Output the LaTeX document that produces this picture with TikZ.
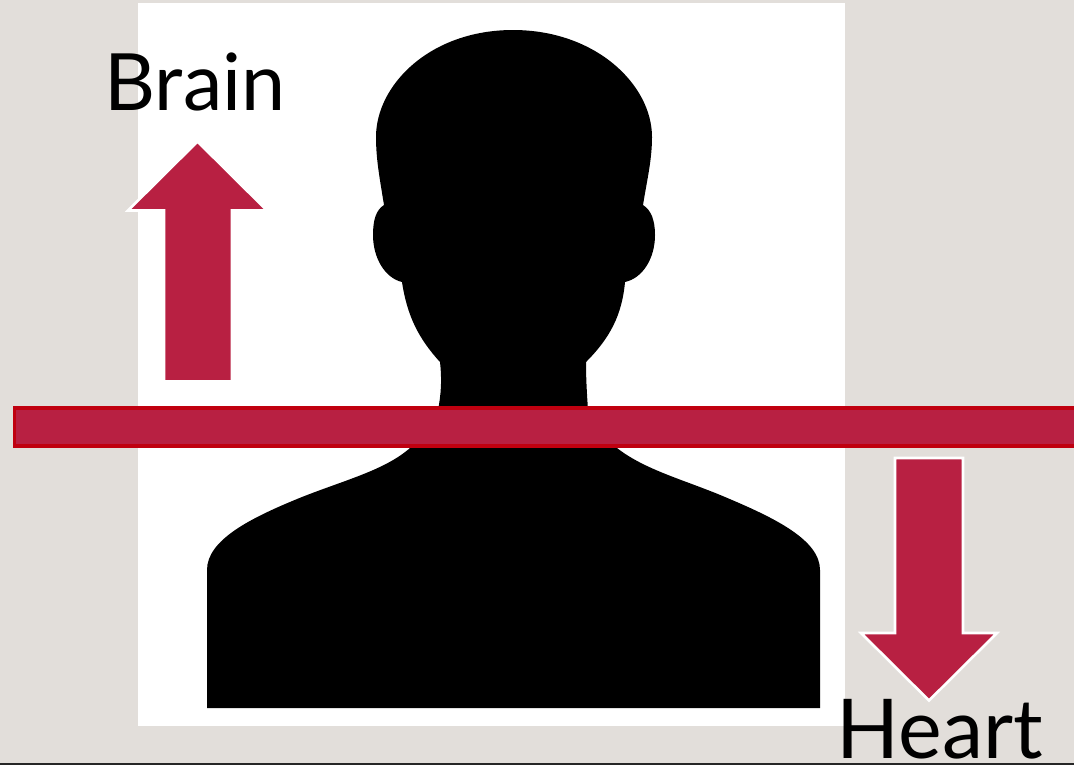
\documentclass[tikz,border=0pt]{standalone}
\usepackage{fontspec}
\setmainfont{Lato}
\usepackage{xcolor}
\definecolor{slide}{HTML}{E2DEDA}
\definecolor{crimson}{HTML}{B82042}
\definecolor{barline}{HTML}{C00010}
\tikzset{
  bigarrow/.style={fill=crimson,draw=white,line width=1.5pt,miter limit=10},
  label/.style={font=\fontsize{45}{48}\selectfont,text=black,inner sep=0pt,anchor=base}
}

\begin{document}
\begin{tikzpicture}[x=0.02cm,y=-0.02cm]
\useasboundingbox (0,0) rectangle (1074,765);
\fill[slide] (0,0) rectangle (1074,765);
\fill[black!85] (0,763) rectangle (1074,765);
\fill[white] (138,3) rectangle (845,726);
% silhouette
\fill[black] (384,205)
  .. controls (380,180) and (376,160) .. (376,137)
  .. controls (376,85) and (430,30) .. (513,30)
  .. controls (596,30) and (652,85) .. (652,137)
  .. controls (652,160) and (647,180) .. (643,205)
  .. controls (651,210) and (655,220) .. (655,235)
  .. controls (655,258) and (643,278) .. (625,282)
  .. controls (622,315) and (610,338) .. (586,362)
  .. controls (586,380) and (587,395) .. (588,410)
  -- (617,448)
  .. controls (645,470) and (685,480) .. (725,497)
  .. controls (775,518) and (820,540) .. (820,570)
  -- (820,708) -- (207,708) -- (207,570)
  .. controls (207,540) and (250,518) .. (302,497)
  .. controls (345,480) and (385,470) .. (410,448)
  -- (438,410)
  .. controls (441,395) and (442,380) .. (440,362)
  .. controls (418,338) and (407,315) .. (402,282)
  .. controls (385,278) and (373,258) .. (373,235)
  .. controls (373,220) and (376,210) .. (384,205)
  -- cycle;
% bar
\draw[fill=crimson,draw=barline,line width=2pt] (14.5,408) rectangle (1080,446);
% arrows
\draw[bigarrow] (164,381.5) -- (164,210.5) -- (128,210.5) -- (197.5,141.5) -- (267,210.5) -- (232,210.5) -- (232,381.5) -- cycle;
\draw[bigarrow] (895,458) -- (963,458) -- (963,633) -- (997,633) -- (929,700.5) -- (861,633) -- (895,633) -- cycle;
\node[label] (brain) at (195,110) {Brain};
\node[label,font=\fontsize{47}{50}\selectfont] (heart) at (940,758.5) {Heart};
\end{tikzpicture}
\end{document}
